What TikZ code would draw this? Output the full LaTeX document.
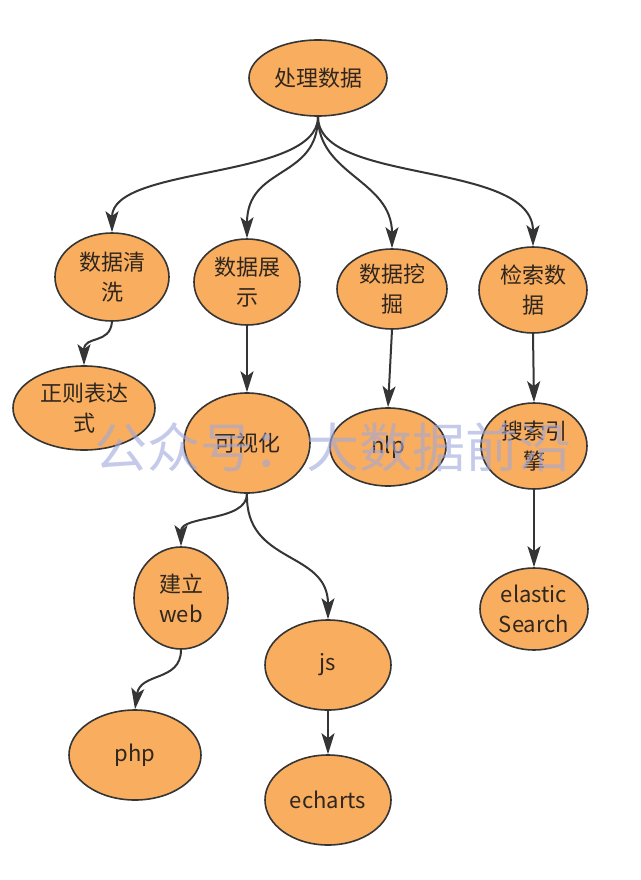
\documentclass[tikz,border=0pt]{standalone}
\usepackage{fontspec}
\setmainfont{Noto Sans CJK SC}
\newfontfamily\cjk{Noto Sans CJK SC}
\usetikzlibrary{shapes.geometric,arrows.meta}
\definecolor{nodefill}{HTML}{F9AD5E}
\definecolor{nodeline}{HTML}{353535}
\definecolor{txt}{HTML}{2F261E}
\definecolor{wm}{HTML}{9FA8DC}
\begin{document}
\begin{tikzpicture}[x=1pt,y=-1pt,
  bub/.style={ellipse,draw=nodeline,line width=1.6pt,fill=nodefill,inner sep=0pt,
    text=txt,align=center,font=\cjk\fontsize{22}{30}\selectfont},
  conn/.style={draw=nodeline,line width=2pt,
    -{Stealth[length=21pt,width=13pt,inset=5pt]}}]
\useasboundingbox[fill=white] (0,0) rectangle (640,880);
% nodes
\node[bub,minimum width=138pt,minimum height=76pt] (root) at (318,78) {处理数据};
\node[bub,minimum width=114pt,minimum height=88pt] (clean) at (112,277) {数据清\\洗};
\node[bub,minimum width=106pt,minimum height=86pt] (show) at (247,282) {数据展\\示};
\node[bub,minimum width=110pt,minimum height=80pt] (mine) at (392,289) {数据挖\\掘};
\node[bub,minimum width=108pt,minimum height=86pt] (search) at (533,290) {检索数\\据};
\node[bub,minimum width=142pt,minimum height=84pt] (regex) at (84,408) {正则表达\\式};
\node[bub,minimum width=126pt,minimum height=100pt] (vis) at (247,443) {可视化};
\node[bub,minimum width=116pt,minimum height=78pt] (nlp) at (388,447) {nlp};
\node[bub,minimum width=106pt,minimum height=86pt] (engine) at (534,446) {搜索引\\擎};
\node[bub,minimum width=94pt,minimum height=102pt] (web) at (181,598) {建立\\web};
\node[bub,minimum width=126pt,minimum height=90pt] (js) at (328,665) {js};
\node[bub,minimum width=108pt,minimum height=82pt] (es) at (534,609) {elastic\\Search};
\node[bub,minimum width=132pt,minimum height=90pt] (php) at (135,755) {php};
\node[bub,minimum width=126pt,minimum height=90pt] (ech) at (328,800) {echarts};
% connectors
\draw[conn] (root.south) .. controls (318,180) and (112,165) .. (clean.north);
\draw[conn] (root.south) .. controls (318,180) and (247,165) .. (show.north);
\draw[conn] (root.south) .. controls (318,175) and (392,180) .. (mine.north);
\draw[conn] (root.south) .. controls (318,185) and (533,160) .. (search.north);
\draw[conn] (clean.south) .. controls (110,345) and (84,335) .. (regex.north);
\draw[conn] (show.south) -- (vis.north);
\draw[conn] (mine.south) -- (nlp.north);
\draw[conn] (search.south) -- (engine.north);
\draw[conn] (vis.south) .. controls (247,522) and (181,515) .. (web.north);
\draw[conn] (vis.south) .. controls (245,565) and (328,550) .. (js.north);
\draw[conn] (engine.south) -- (es.north);
\draw[conn] (web.south) .. controls (181,682) and (140,672) .. (php.north);
\draw[conn] (js.south) -- (ech.north);
% watermark
\node[text=wm,opacity=0.6,inner sep=0pt,font=\cjk\fontsize{53}{60}\selectfont] (wmark) at (333,447) {公众号：大数据前沿};
\end{tikzpicture}
\end{document}
